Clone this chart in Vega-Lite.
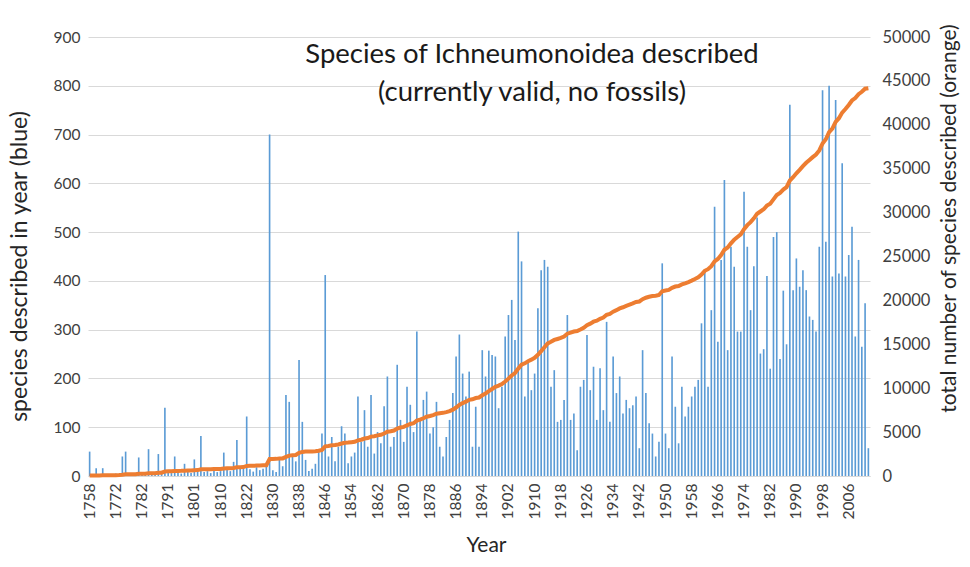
{
"$schema": "https://vega.github.io/schema/vega-lite/v6.json",
"width": 782, "height": 439,
"autosize": {"type": "none"},
"padding": {"left": 88, "top": 37, "right": 100, "bottom": 91},
"background": "white",
"config": {"font": "Lato", "view": {"stroke": null}},
"title": {"text": ["Species of Ichneumonoidea described", "(currently valid, no fossils)"], "anchor": "middle", "align": "center", "dx": 53, "offset": -83, "fontSize": 27.5, "font": "Lato", "fontWeight": "normal", "color": "#1a1a1a", "lineHeight": 38},
"data": {"values": [
{"year":1758,"count":50,"total":50},{"year":1760,"count":3,"total":53},{"year":1761,"count":16,"total":69},{"year":1763,"count":2,"total":71},{"year":1764,"count":16,"total":87},{"year":1767,"count":2,"total":89},{"year":1768,"count":3,"total":92},{"year":1771,"count":2,"total":94},{"year":1772,"count":5,"total":99},{"year":1773,"count":3,"total":102},{"year":1775,"count":40,"total":142},{"year":1776,"count":50,"total":192},{"year":1777,"count":4,"total":196},{"year":1778,"count":3,"total":199},{"year":1779,"count":6,"total":205},{"year":1781,"count":38,"total":243},{"year":1782,"count":4,"total":247},{"year":1783,"count":6,"total":253},{"year":1784,"count":55,"total":308},{"year":1785,"count":5,"total":313},{"year":1786,"count":8,"total":321},{"year":1787,"count":45,"total":366},{"year":1789,"count":10,"total":376},{"year":1790,"count":140,"total":516},{"year":1791,"count":12,"total":528},{"year":1792,"count":6,"total":534},{"year":1793,"count":40,"total":574},{"year":1794,"count":8,"total":582},{"year":1795,"count":5,"total":587},{"year":1797,"count":25,"total":612},{"year":1798,"count":10,"total":622},{"year":1800,"count":6,"total":628},{"year":1801,"count":34,"total":662},{"year":1802,"count":12,"total":674},{"year":1803,"count":82,"total":756},{"year":1804,"count":8,"total":764},{"year":1805,"count":10,"total":774},{"year":1806,"count":6,"total":780},{"year":1807,"count":12,"total":792},{"year":1809,"count":8,"total":800},{"year":1810,"count":10,"total":810},{"year":1811,"count":48,"total":858},{"year":1813,"count":14,"total":872},{"year":1814,"count":10,"total":882},{"year":1815,"count":29,"total":911},{"year":1817,"count":74,"total":985},{"year":1818,"count":16,"total":1001},{"year":1820,"count":20,"total":1021},{"year":1822,"count":122,"total":1143},{"year":1823,"count":14,"total":1157},{"year":1824,"count":9,"total":1166},{"year":1825,"count":18,"total":1184},{"year":1826,"count":12,"total":1196},{"year":1827,"count":15,"total":1211},{"year":1828,"count":20,"total":1231},{"year":1829,"count":700,"total":1931},
{"year":1830,"count":12,"total":1943},{"year":1831,"count":8,"total":1951},{"year":1832,"count":33,"total":1984},{"year":1833,"count":20,"total":2004},{"year":1834,"count":166,"total":2170},{"year":1835,"count":152,"total":2322},{"year":1836,"count":45,"total":2367},{"year":1837,"count":30,"total":2397},{"year":1838,"count":238,"total":2635},{"year":1839,"count":111,"total":2746},
{"year":1840,"count":33,"total":2779},{"year":1841,"count":10,"total":2789},{"year":1842,"count":15,"total":2804},{"year":1843,"count":25,"total":2829},{"year":1844,"count":55,"total":2884},{"year":1845,"count":87,"total":2971},{"year":1846,"count":412,"total":3383},{"year":1847,"count":40,"total":3423},{"year":1848,"count":80,"total":3503},{"year":1849,"count":30,"total":3533},
{"year":1850,"count":60,"total":3593},{"year":1851,"count":102,"total":3695},{"year":1852,"count":87,"total":3782},{"year":1853,"count":26,"total":3808},{"year":1854,"count":40,"total":3848},{"year":1855,"count":48,"total":3896},{"year":1856,"count":163,"total":4059},{"year":1857,"count":70,"total":4129},{"year":1858,"count":135,"total":4264},{"year":1859,"count":60,"total":4324},
{"year":1860,"count":166,"total":4490},{"year":1861,"count":46,"total":4536},{"year":1862,"count":90,"total":4626},{"year":1863,"count":67,"total":4693},{"year":1864,"count":143,"total":4836},{"year":1865,"count":204,"total":5040},{"year":1866,"count":60,"total":5100},{"year":1867,"count":80,"total":5180},{"year":1868,"count":228,"total":5408},{"year":1869,"count":115,"total":5523},
{"year":1870,"count":70,"total":5593},{"year":1871,"count":183,"total":5776},{"year":1872,"count":146,"total":5922},{"year":1873,"count":90,"total":6012},{"year":1874,"count":296,"total":6308},{"year":1875,"count":115,"total":6423},{"year":1876,"count":156,"total":6579},{"year":1877,"count":173,"total":6752},{"year":1878,"count":87,"total":6839},{"year":1879,"count":100,"total":6939},
{"year":1880,"count":152,"total":7091},{"year":1881,"count":60,"total":7151},{"year":1882,"count":40,"total":7191},{"year":1883,"count":80,"total":7271},{"year":1884,"count":115,"total":7386},{"year":1885,"count":170,"total":7556},{"year":1886,"count":245,"total":7801},{"year":1887,"count":290,"total":8091},{"year":1888,"count":210,"total":8301},{"year":1889,"count":163,"total":8464},
{"year":1890,"count":214,"total":8678},{"year":1891,"count":60,"total":8738},{"year":1892,"count":142,"total":8880},{"year":1893,"count":60,"total":8940},{"year":1894,"count":258,"total":9198},{"year":1895,"count":204,"total":9402},{"year":1896,"count":257,"total":9659},{"year":1897,"count":248,"total":9907},{"year":1898,"count":245,"total":10152},{"year":1899,"count":139,"total":10291},
{"year":1900,"count":183,"total":10474},{"year":1901,"count":286,"total":10760},{"year":1902,"count":330,"total":11090},{"year":1903,"count":361,"total":11451},{"year":1904,"count":279,"total":11730},{"year":1905,"count":501,"total":12231},{"year":1906,"count":440,"total":12671},{"year":1907,"count":163,"total":12834},{"year":1908,"count":238,"total":13072},{"year":1909,"count":176,"total":13248},
{"year":1910,"count":210,"total":13458},{"year":1911,"count":344,"total":13802},{"year":1912,"count":422,"total":14224},{"year":1913,"count":443,"total":14667},{"year":1914,"count":429,"total":15096},{"year":1915,"count":183,"total":15279},{"year":1916,"count":217,"total":15496},{"year":1917,"count":111,"total":15607},{"year":1918,"count":115,"total":15722},{"year":1919,"count":156,"total":15878},
{"year":1920,"count":330,"total":16208},{"year":1921,"count":115,"total":16323},{"year":1922,"count":128,"total":16451},{"year":1923,"count":53,"total":16504},{"year":1924,"count":183,"total":16687},{"year":1925,"count":197,"total":16884},{"year":1926,"count":289,"total":17173},{"year":1927,"count":176,"total":17349},{"year":1928,"count":224,"total":17573},{"year":1929,"count":115,"total":17688},
{"year":1930,"count":221,"total":17909},{"year":1931,"count":135,"total":18044},{"year":1932,"count":316,"total":18360},{"year":1933,"count":111,"total":18471},{"year":1934,"count":245,"total":18716},{"year":1935,"count":170,"total":18886},{"year":1936,"count":204,"total":19090},{"year":1937,"count":128,"total":19218},{"year":1938,"count":156,"total":19374},{"year":1939,"count":139,"total":19513},
{"year":1940,"count":145,"total":19658},{"year":1941,"count":163,"total":19821},{"year":1942,"count":57,"total":19878},{"year":1943,"count":258,"total":20136},{"year":1944,"count":170,"total":20306},{"year":1945,"count":108,"total":20414},{"year":1946,"count":87,"total":20501},{"year":1947,"count":40,"total":20541},{"year":1948,"count":70,"total":20611},{"year":1949,"count":436,"total":21047},
{"year":1950,"count":87,"total":21134},{"year":1951,"count":57,"total":21191},{"year":1952,"count":245,"total":21436},{"year":1953,"count":142,"total":21578},{"year":1954,"count":67,"total":21645},{"year":1955,"count":183,"total":21828},{"year":1956,"count":122,"total":21950},{"year":1957,"count":142,"total":22092},{"year":1958,"count":163,"total":22255},{"year":1959,"count":183,"total":22438},
{"year":1960,"count":197,"total":22635},{"year":1961,"count":313,"total":22948},{"year":1962,"count":422,"total":23370},{"year":1963,"count":183,"total":23553},{"year":1964,"count":340,"total":23893},{"year":1965,"count":552,"total":24445},{"year":1966,"count":275,"total":24720},{"year":1967,"count":443,"total":25163},{"year":1968,"count":607,"total":25770},{"year":1969,"count":258,"total":26028},
{"year":1970,"count":470,"total":26498},{"year":1971,"count":429,"total":26927},{"year":1972,"count":296,"total":27223},{"year":1973,"count":296,"total":27519},{"year":1974,"count":583,"total":28102},{"year":1975,"count":470,"total":28572},{"year":1976,"count":340,"total":28912},{"year":1977,"count":430,"total":29342},{"year":1978,"count":530,"total":29872},{"year":1979,"count":251,"total":30123},
{"year":1980,"count":260,"total":30383},{"year":1981,"count":410,"total":30793},{"year":1982,"count":220,"total":31013},{"year":1983,"count":490,"total":31503},{"year":1984,"count":500,"total":32003},{"year":1985,"count":240,"total":32243},{"year":1986,"count":380,"total":32623},{"year":1987,"count":270,"total":32893},{"year":1988,"count":761,"total":33654},{"year":1989,"count":381,"total":34035},
{"year":1990,"count":446,"total":34481},{"year":1991,"count":388,"total":34869},{"year":1992,"count":422,"total":35291},{"year":1993,"count":381,"total":35672},{"year":1994,"count":327,"total":35999},{"year":1995,"count":320,"total":36319},{"year":1996,"count":296,"total":36615},{"year":1997,"count":470,"total":37085},{"year":1998,"count":791,"total":37876},{"year":1999,"count":480,"total":38356},
{"year":2000,"count":800,"total":39156},{"year":2001,"count":409,"total":39565},{"year":2002,"count":771,"total":40336},{"year":2003,"count":415,"total":40751},{"year":2004,"count":641,"total":41392},{"year":2005,"count":409,"total":41801},{"year":2006,"count":453,"total":42254},{"year":2007,"count":511,"total":42765},{"year":2008,"count":286,"total":43051},{"year":2009,"count":443,"total":43494},
{"year":2010,"count":265,"total":43759},{"year":2011,"count":354,"total":44113},{"year":2012,"count":57,"total":44170}
]},
"layer": [
{"mark": {"type": "bar", "color": "#5B9BD5", "width": {"band": 0.5}},
 "encoding": {
  "x": {"field": "year", "type": "ordinal", "scale": {"paddingInner": 0, "paddingOuter": 0},
        "axis": {"title": "Year", "values": [1758,1772,1782,1791,1801,1810,1822,1830,1838,1846,1854,1862,1870,1878,1886,1894,1902,1910,1918,1926,1934,1942,1950,1958,1966,1974,1982,1990,1998,2006],
                 "labelAngle": 270, "labelFont": "Lato", "labelFontSize": 15.5, "labelColor": "#404040", "labelPadding": 7,
                 "ticks": false, "domain": true, "domainColor": "#d9d9d9", "grid": false, "titleX": 398,
                 "titleFont": "Lato", "titleFontSize": 21, "titleFontWeight": "normal", "titleColor": "#262626", "titlePadding": 16}},
  "y": {"field": "count", "type": "quantitative", "scale": {"domain": [0, 900], "nice": false},
        "axis": {"title": "species described in year (blue)", "values": [0,100,200,300,400,500,600,700,800,900],
                 "labelFont": "Lato", "labelFontSize": 15.5, "labelColor": "#404040", "labelPadding": 8,
                 "ticks": false, "domain": false, "grid": true, "gridColor": "#d9d9d9", "titleY": 229,
                 "titleFont": "Lato", "titleFontSize": 23, "titleFontWeight": "normal", "titleColor": "#262626", "titlePadding": 22}}
 }},
{"mark": {"type": "line", "color": "#ED7D31", "strokeWidth": 4},
 "encoding": {
  "x": {"field": "year", "type": "ordinal", "bandPosition": 0.5},
  "y": {"field": "total", "type": "quantitative", "scale": {"domain": [0, 50000], "nice": false},
        "axis": {"orient": "right", "title": "total number of species described (orange)", "values": [0,5000,10000,15000,20000,25000,30000,35000,40000,45000,50000],
                 "format": "d", "labelFont": "Lato", "labelFontSize": 16.5, "labelColor": "#404040", "labelPadding": 12,
                 "ticks": false, "domain": false, "grid": false, "titleAngle": 270, "titleY": 181,
                 "titleFont": "Lato", "titleFontSize": 21, "titleFontWeight": "normal", "titleColor": "#262626", "titlePadding": 30}}
 }}
],
"resolve": {"scale": {"y": "independent"}}
}
